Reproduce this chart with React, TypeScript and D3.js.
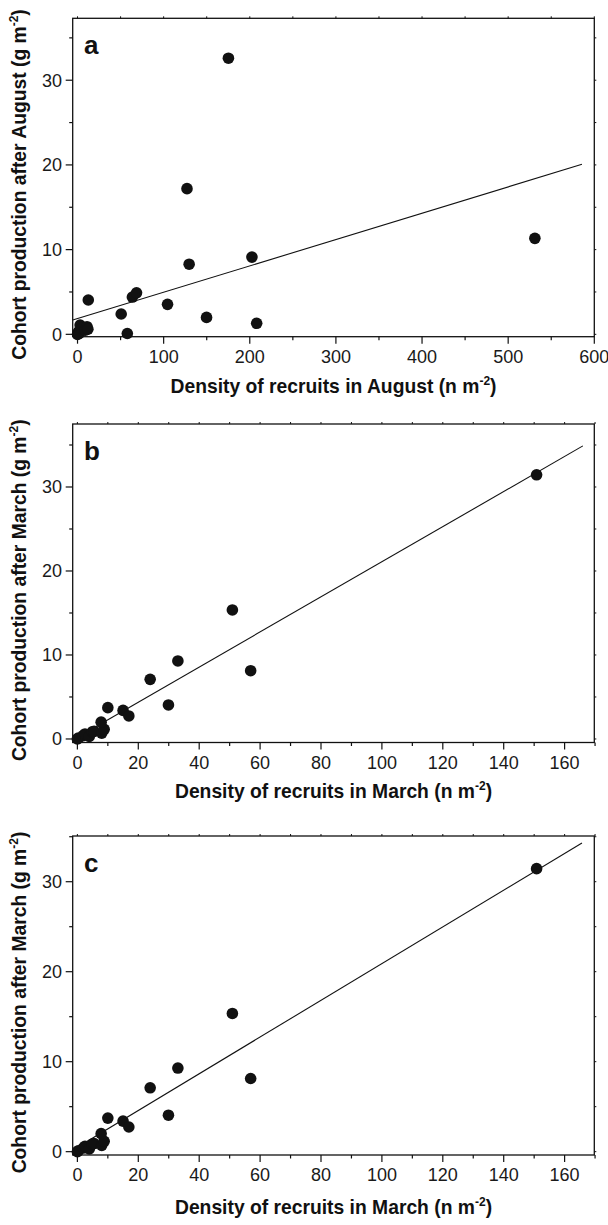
import * as d3 from 'd3';

// panel a: August
const augDensity = [0, 1, 2, 3, 5, 9, 11, 12, 12.5, 50.7, 57.8, 63.7, 68.5, 104.5, 127.1, 129.6, 149.8, 175.2, 202.5, 208, 531];
const augProduction = [0, 0.3, 0.1, 1.1, 0.7, 0.5, 0.9, 0.6, 4.05, 2.4, 0.1, 4.4, 4.9, 3.54, 17.2, 8.28, 2.0, 32.6, 9.12, 1.3, 11.33];

// panels b and c: March
const marchDensity = [0, 0.3, 1.9, 2.5, 3.9, 4.9, 5.5, 8, 8.8, 7.8, 10, 15, 16.9, 23.9, 29.9, 33, 50.9, 56.9, 150.8];
const marchProduction = [0, 0.1, 0.4, 0.6, 0.3, 0.85, 0.9, 0.7, 1.15, 2.0, 3.73, 3.4, 2.74, 7.1, 4.05, 9.29, 15.36, 8.13, 31.45];

// fitted lines: [intercept, slope, x from, x to]
const fitA = [1.86, 0.0311, -5.6, 585.7];
const fitB = [0.2, 0.209, -1.5, 166];
const fitC = [0.5, 0.204, -1.5, 165.7];

const augTicks = [0, 100, 200, 300, 400, 500, 600];
const augMinor = [50, 150, 250, 350, 450, 550];
const marchTicks = [0, 20, 40, 60, 80, 100, 120, 140, 160];
const marchMinor = [10, 30, 50, 70, 90, 110, 130, 150, 170];
const yTicks = [0, 10, 20, 30];
const yMinor = [5, 15, 25, 35];

const font = '"Liberation Sans", Arial, Helvetica, sans-serif';
const left = 72.7, right = 594.3;

function Panel({ top, bottom, xDomain, yDomain, xTicks, xMinor, xs, ys, fit, letter, month, titleGap }: any) {
  const x = d3.scaleLinear().domain(xDomain).range([left, right]);
  const y = d3.scaleLinear().domain(yDomain).range([bottom, top]);
  const line = d3.line<number>().x((d) => x(d)).y((d) => y(fit[0] + fit[1] * d));
  const midY = (top + bottom) / 2 + 7;
  const yMinorIn = yMinor.filter((v) => y(v) >= top);
  return (
    <g>
      <rect x={left} y={top} width={right - left} height={bottom - top} fill="none" stroke="#111" strokeWidth={1.3} />
      {/* bottom + left ticks */}
      {xTicks.map((t: number) => (
        <g key={'xt' + t}>
          <line x1={x(t)} x2={x(t)} y1={bottom} y2={bottom + 7} stroke="#111" strokeWidth={1.2} />
          <line x1={x(t)} x2={x(t)} y1={top} y2={top - 2} stroke="#111" strokeWidth={1} />
          <text x={x(t)} y={bottom + 26} textAnchor="middle" fontSize={18} fill="#1a1a1a">{t}</text>
        </g>
      ))}
      {xMinor.map((t: number) => (
        <g key={'xm' + t}>
          <line x1={x(t)} x2={x(t)} y1={bottom} y2={bottom + 3.5} stroke="#111" strokeWidth={1.2} />
          <line x1={x(t)} x2={x(t)} y1={top} y2={top - 2} stroke="#111" strokeWidth={1} />
        </g>
      ))}
      {yTicks.map((t) => (
        <g key={'yt' + t}>
          <line x1={left - 7} x2={left} y1={y(t)} y2={y(t)} stroke="#111" strokeWidth={1.2} />
          <line x1={right} x2={right + 2} y1={y(t)} y2={y(t)} stroke="#111" strokeWidth={1} />
          <text x={62} y={y(t)} dy="0.36em" textAnchor="end" fontSize={18} fill="#1a1a1a">{t}</text>
        </g>
      ))}
      {yMinorIn.map((t) => (
        <g key={'ym' + t}>
          <line x1={left - 3.5} x2={left} y1={y(t)} y2={y(t)} stroke="#111" strokeWidth={1.2} />
          <line x1={right} x2={right + 2} y1={y(t)} y2={y(t)} stroke="#111" strokeWidth={1} />
        </g>
      ))}
      <path d={line([fit[2], fit[3]]) ?? ''} fill="none" stroke="#111" strokeWidth={1.1} />
      {xs.map((d: number, i: number) => (
        <circle key={i} cx={x(d)} cy={y(ys[i])} r={5.8} fill="#111" />
      ))}
      <text x={84} y={top + 36} fontSize={26} fontWeight="bold" fill="#111">{letter}</text>
      <text x={(left + right) / 2} y={bottom + titleGap} textAnchor="middle" fontSize={19.3} fontWeight="bold" fill="#111">
        {`Density of recruits in ${month} (n m`}
        <tspan fontSize={12} dy={-8}>-2</tspan>
        <tspan dy={8}>)</tspan>
      </text>
      <text transform={`translate(26,${midY}) rotate(-90)`} textAnchor="middle" fontSize={19.3} fontWeight="bold" fill="#111">
        {`Cohort production after ${month} (g m`}
        <tspan fontSize={12} dy={-8}>-2</tspan>
        <tspan dy={8}>)</tspan>
      </text>
    </g>
  );
}

export default function App() {
  return (
    <svg width={608} height={1225} style={{ position: 'absolute', left: 0, top: 0, fontFamily: font, background: '#fff' }}>
      <Panel top={18.3} bottom={336.7} xDomain={[-5.6, 600]} yDomain={[-0.28, 37.31]}
        xTicks={augTicks} xMinor={augMinor} xs={augDensity} ys={augProduction} fit={fitA}
        letter="a" month="August" titleGap={56.6} />
      <Panel top={424} bottom={742.5} xDomain={[-1.54, 169.75]} yDomain={[-0.42, 37.5]}
        xTicks={marchTicks} xMinor={marchMinor} xs={marchDensity} ys={marchProduction} fit={fitB}
        letter="b" month="March" titleGap={55.8} />
      <Panel top={836} bottom={1155} xDomain={[-1.54, 169.75]} yDomain={[-0.37, 35.08]}
        xTicks={marchTicks} xMinor={marchMinor} xs={marchDensity} ys={marchProduction} fit={fitC}
        letter="c" month="March" titleGap={59} />
    </svg>
  );
}
